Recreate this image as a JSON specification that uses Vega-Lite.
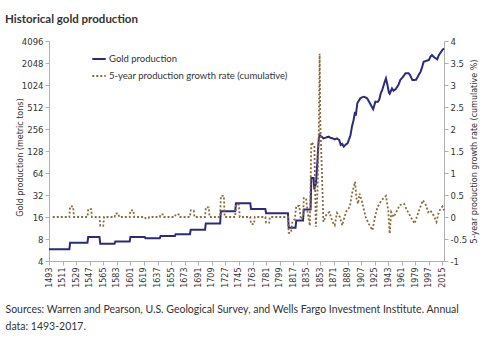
{
  "$schema": "https://vega.github.io/schema/vega-lite/v6.json",
  "width": 395,
  "height": 220,
  "autosize": {"type": "none"},
  "padding": {"left": 49, "top": 41, "right": 56, "bottom": 91},
  "background": "white",
  "title": {
    "text": "Historical gold production",
    "anchor": "start",
    "frame": "group",
    "dx": -44,
    "offset": 12,
    "font": "Lato",
    "fontSize": 11.5,
    "fontWeight": "bold",
    "color": "#333333"
  },
  "datasets": {
    "gold": [
      {"year": 1493, "tons": 5.8}, {"year": 1520, "tons": 5.8},
      {"year": 1521, "tons": 7.1}, {"year": 1544, "tons": 7.1},
      {"year": 1545, "tons": 8.5}, {"year": 1560, "tons": 8.5},
      {"year": 1561, "tons": 6.9}, {"year": 1580, "tons": 6.9},
      {"year": 1581, "tons": 7.4}, {"year": 1600, "tons": 7.4},
      {"year": 1601, "tons": 8.5}, {"year": 1620, "tons": 8.5},
      {"year": 1621, "tons": 8.2}, {"year": 1640, "tons": 8.2},
      {"year": 1641, "tons": 8.8}, {"year": 1660, "tons": 8.8},
      {"year": 1661, "tons": 9.3}, {"year": 1680, "tons": 9.3},
      {"year": 1681, "tons": 10.7}, {"year": 1700, "tons": 10.7},
      {"year": 1701, "tons": 13}, {"year": 1720, "tons": 13},
      {"year": 1721, "tons": 19.2}, {"year": 1740, "tons": 19.2},
      {"year": 1741, "tons": 24.6}, {"year": 1760, "tons": 24.6},
      {"year": 1761, "tons": 20.6}, {"year": 1780, "tons": 20.6},
      {"year": 1781, "tons": 18}, {"year": 1810, "tons": 18},
      {"year": 1811, "tons": 11.4}, {"year": 1820, "tons": 11.4},
      {"year": 1821, "tons": 14.3}, {"year": 1830, "tons": 14.3},
      {"year": 1831, "tons": 20.3}, {"year": 1840, "tons": 20.3},
      {"year": 1841, "tons": 54.8}, {"year": 1844, "tons": 54.8},
      {"year": 1845, "tons": 38}, {"year": 1846, "tons": 42},
      {"year": 1847, "tons": 45}, {"year": 1848, "tons": 62},
      {"year": 1849, "tons": 90}, {"year": 1850, "tons": 140},
      {"year": 1851, "tons": 190}, {"year": 1852, "tons": 212},
      {"year": 1853, "tons": 205}, {"year": 1855, "tons": 200},
      {"year": 1857, "tons": 191}, {"year": 1860, "tons": 195},
      {"year": 1864, "tons": 201}, {"year": 1866, "tons": 195},
      {"year": 1869, "tons": 191}, {"year": 1872, "tons": 185},
      {"year": 1875, "tons": 190}, {"year": 1878, "tons": 181},
      {"year": 1880, "tons": 155}, {"year": 1882, "tons": 160},
      {"year": 1884, "tons": 147}, {"year": 1887, "tons": 158},
      {"year": 1889, "tons": 163}, {"year": 1891, "tons": 185},
      {"year": 1893, "tons": 212}, {"year": 1895, "tons": 280},
      {"year": 1897, "tons": 337}, {"year": 1899, "tons": 440},
      {"year": 1900, "tons": 390}, {"year": 1902, "tons": 575},
      {"year": 1906, "tons": 676}, {"year": 1909, "tons": 700},
      {"year": 1911, "tons": 708}, {"year": 1913, "tons": 690},
      {"year": 1915, "tons": 676}, {"year": 1917, "tons": 620},
      {"year": 1920, "tons": 545}, {"year": 1923, "tons": 478},
      {"year": 1926, "tons": 605}, {"year": 1929, "tons": 600},
      {"year": 1931, "tons": 640}, {"year": 1933, "tons": 780},
      {"year": 1935, "tons": 873}, {"year": 1938, "tons": 1100},
      {"year": 1940, "tons": 1260}, {"year": 1942, "tons": 1024},
      {"year": 1944, "tons": 800}, {"year": 1945, "tons": 776},
      {"year": 1947, "tons": 870}, {"year": 1948, "tons": 922},
      {"year": 1950, "tons": 855}, {"year": 1953, "tons": 900},
      {"year": 1955, "tons": 967}, {"year": 1957, "tons": 1050},
      {"year": 1959, "tons": 1200}, {"year": 1962, "tons": 1300},
      {"year": 1966, "tons": 1480}, {"year": 1970, "tons": 1480},
      {"year": 1972, "tons": 1400}, {"year": 1975, "tons": 1200},
      {"year": 1977, "tons": 1200}, {"year": 1980, "tons": 1210},
      {"year": 1983, "tons": 1380}, {"year": 1986, "tons": 1560},
      {"year": 1988, "tons": 1800}, {"year": 1990, "tons": 2130},
      {"year": 1994, "tons": 2200}, {"year": 1997, "tons": 2250},
      {"year": 1999, "tons": 2500}, {"year": 2001, "tons": 2630},
      {"year": 2004, "tons": 2450}, {"year": 2008, "tons": 2300},
      {"year": 2010, "tons": 2600}, {"year": 2012, "tons": 2800},
      {"year": 2015, "tons": 3100}, {"year": 2017, "tons": 3250}
    ],
    "growth": [
      {"year": 1498, "rate": 0}, {"year": 1520, "rate": 0},
      {"year": 1521, "rate": 0.24}, {"year": 1525, "rate": 0.24}, {"year": 1526, "rate": 0}, {"year": 1544, "rate": 0},
      {"year": 1545, "rate": 0.18}, {"year": 1549, "rate": 0.18}, {"year": 1550, "rate": 0}, {"year": 1560, "rate": 0},
      {"year": 1561, "rate": -0.2}, {"year": 1565, "rate": -0.2}, {"year": 1566, "rate": 0}, {"year": 1580, "rate": 0},
      {"year": 1581, "rate": 0.08}, {"year": 1585, "rate": 0.08}, {"year": 1586, "rate": 0}, {"year": 1600, "rate": 0},
      {"year": 1601, "rate": 0.15}, {"year": 1605, "rate": 0.15}, {"year": 1606, "rate": 0}, {"year": 1620, "rate": 0},
      {"year": 1621, "rate": -0.03}, {"year": 1625, "rate": -0.03}, {"year": 1626, "rate": 0}, {"year": 1640, "rate": 0},
      {"year": 1641, "rate": 0.06}, {"year": 1645, "rate": 0.06}, {"year": 1646, "rate": 0}, {"year": 1660, "rate": 0},
      {"year": 1661, "rate": 0.06}, {"year": 1665, "rate": 0.06}, {"year": 1666, "rate": 0}, {"year": 1680, "rate": 0},
      {"year": 1681, "rate": 0.15}, {"year": 1685, "rate": 0.15}, {"year": 1686, "rate": 0}, {"year": 1700, "rate": 0},
      {"year": 1701, "rate": 0.22}, {"year": 1705, "rate": 0.22}, {"year": 1706, "rate": 0}, {"year": 1720, "rate": 0},
      {"year": 1721, "rate": 0.48}, {"year": 1725, "rate": 0.48}, {"year": 1726, "rate": 0}, {"year": 1740, "rate": 0},
      {"year": 1741, "rate": 0.28}, {"year": 1745, "rate": 0.28}, {"year": 1746, "rate": 0}, {"year": 1760, "rate": 0},
      {"year": 1761, "rate": -0.16}, {"year": 1765, "rate": -0.16}, {"year": 1766, "rate": 0}, {"year": 1780, "rate": 0},
      {"year": 1781, "rate": -0.13}, {"year": 1785, "rate": -0.13}, {"year": 1786, "rate": 0}, {"year": 1810, "rate": 0},
      {"year": 1811, "rate": -0.36}, {"year": 1814, "rate": -0.36}, {"year": 1816, "rate": -0.1}, {"year": 1819, "rate": -0.05},
      {"year": 1821, "rate": 0.25}, {"year": 1825, "rate": 0.25}, {"year": 1827, "rate": -0.05}, {"year": 1830, "rate": 0},
      {"year": 1831, "rate": 0.43}, {"year": 1834, "rate": 0.43}, {"year": 1836, "rate": 0.12}, {"year": 1839, "rate": -0.2},
      {"year": 1841, "rate": 1.7}, {"year": 1845, "rate": 1.63}, {"year": 1847, "rate": -0.22}, {"year": 1849, "rate": 0.5},
      {"year": 1851, "rate": 1.97}, {"year": 1852, "rate": 3.71}, {"year": 1853, "rate": 2.05}, {"year": 1855, "rate": 1.06},
      {"year": 1857, "rate": -0.11}, {"year": 1860, "rate": 0.02}, {"year": 1862, "rate": 0.08}, {"year": 1865, "rate": 0.11},
      {"year": 1869, "rate": -0.11}, {"year": 1872, "rate": -0.19}, {"year": 1875, "rate": 0.09}, {"year": 1879, "rate": 0},
      {"year": 1882, "rate": -0.19}, {"year": 1885, "rate": 0}, {"year": 1888, "rate": 0.15}, {"year": 1892, "rate": 0.23},
      {"year": 1895, "rate": 0.53}, {"year": 1899, "rate": 0.8}, {"year": 1901, "rate": 0.42}, {"year": 1903, "rate": 0.3},
      {"year": 1905, "rate": 0.53}, {"year": 1909, "rate": 0.3}, {"year": 1913, "rate": 0}, {"year": 1917, "rate": -0.15},
      {"year": 1922, "rate": -0.3}, {"year": 1926, "rate": 0.04}, {"year": 1929, "rate": 0.23}, {"year": 1934, "rate": 0.38},
      {"year": 1940, "rate": 0.48}, {"year": 1943, "rate": 0.15}, {"year": 1945, "rate": -0.38}, {"year": 1947, "rate": 0.11},
      {"year": 1950, "rate": 0}, {"year": 1955, "rate": 0.15}, {"year": 1958, "rate": 0.27}, {"year": 1964, "rate": 0.3},
      {"year": 1968, "rate": 0.15}, {"year": 1973, "rate": 0}, {"year": 1978, "rate": -0.15}, {"year": 1983, "rate": 0.11},
      {"year": 1989, "rate": 0.38}, {"year": 1993, "rate": 0.27}, {"year": 1996, "rate": 0.11}, {"year": 1999, "rate": 0.15},
      {"year": 2003, "rate": 0.04}, {"year": 2007, "rate": -0.11}, {"year": 2010, "rate": 0.11}, {"year": 2013, "rate": 0.2},
      {"year": 2015, "rate": 0.24}, {"year": 2017, "rate": 0.15}
    ]
  },
  "config": {
    "view": {"stroke": null},
    "axis": {
      "domainColor": "#b0b0b0",
      "tickColor": "#b0b0b0",
      "tickSize": 4,
      "grid": false,
      "labelFont": "DejaVu Sans",
      "labelFontSize": 8.5,
      "labelColor": "#333333",
      "titleFont": "DejaVu Sans",
      "titleFontSize": 8,
      "titleFontWeight": "normal",
      "titleColor": "#333333"
    }
  },
  "encoding": {
    "x": {
      "field": "year",
      "type": "quantitative",
      "scale": {"domain": [1493, 2017], "nice": false, "zero": false},
      "axis": {
        "values": [1493, 1511, 1529, 1547, 1565, 1583, 1601, 1619, 1637, 1655, 1673, 1691, 1709, 1727, 1745, 1763, 1781, 1799, 1817, 1835, 1853, 1871, 1889, 1907, 1925, 1943, 1961, 1979, 1997, 2015],
        "format": "d",
        "labelAngle": -90,
        "labelPadding": 2,
        "labelFontSize": 8,
        "labelOverlap": false,
        "labelSeparation": 0,
        "labelFlush": false,
        "labelBound": false,
        "title": ["Sources: Warren and Pearson, U.S. Geological Survey, and Wells Fargo Investment Institute. Annual", "data: 1493-2017."],
        "titleAnchor": "start",
        "titleAlign": "left",
        "titleBaseline": "alphabetic",
        "titleX": -44,
        "titleY": 51,
        "titleFont": "Lato",
        "titleFontSize": 10.5,
        "titleLineHeight": 17,
        "titleColor": "#333333"
      }
    }
  },
  "layer": [
    {
      "data": {"name": "gold"},
      "mark": {"type": "line", "strokeWidth": 2, "interpolate": "linear"},
      "encoding": {
        "y": {
          "field": "tons",
          "type": "quantitative",
          "scale": {"type": "log", "base": 2, "domain": [4, 4096], "nice": false},
          "axis": {
            "values": [4, 8, 16, 32, 64, 128, 256, 512, 1024, 2048, 4096],
            "format": "d",
            "title": "Gold production (metric tons)",
            "titlePadding": -3,
            "titleY": 116
          }
        },
        "color": {
          "datum": "Gold production",
          "type": "nominal",
          "scale": {"domain": ["Gold production", "5-year production growth rate (cumulative)"], "range": ["#2B2A7C", "#8B6B3D"]},
          "legend": {
            "title": null,
            "orient": "none",
            "legendX": 42,
            "legendY": 10,
            "symbolType": "stroke",
            "symbolSize": 180,
            "symbolStrokeWidth": 2,
            "labelFont": "Lato",
            "labelFontSize": 9.5,
            "labelLimit": 400,
            "labelColor": "#333333",
            "labelOffset": 2,
            "rowPadding": 4
          }
        },
        "strokeDash": {
          "datum": "Gold production",
          "type": "nominal",
          "scale": {"domain": ["Gold production", "5-year production growth rate (cumulative)"], "range": [[1, 0], [2, 2]]},
          "legend": {
            "title": null,
            "orient": "none",
            "legendX": 42,
            "legendY": 10,
            "symbolType": "stroke",
            "symbolSize": 180,
            "symbolStrokeWidth": 2,
            "labelFont": "Lato",
            "labelFontSize": 9.5,
            "labelLimit": 400,
            "labelColor": "#333333",
            "labelOffset": 2,
            "rowPadding": 4
          }
        }
      }
    },
    {
      "data": {"name": "growth"},
      "mark": {"type": "line", "strokeWidth": 1.8, "interpolate": "linear"},
      "encoding": {
        "y": {
          "field": "rate",
          "type": "quantitative",
          "scale": {"domain": [-1, 4], "nice": false, "zero": false},
          "axis": {
            "orient": "right",
            "values": [-1, -0.5, 0, 0.5, 1, 1.5, 2, 2.5, 3, 3.5, 4],
            "labelExpr": "'' + datum.value",
            "title": "5-year production growth rate (cumulative %)",
            "titleAngle": 270,
            "titleBaseline": "top",
            "titlePadding": 4
          }
        },
        "color": {"datum": "5-year production growth rate (cumulative)", "type": "nominal"},
        "strokeDash": {"datum": "5-year production growth rate (cumulative)", "type": "nominal"}
      }
    }
  ],
  "resolve": {"scale": {"y": "independent"}}
}
